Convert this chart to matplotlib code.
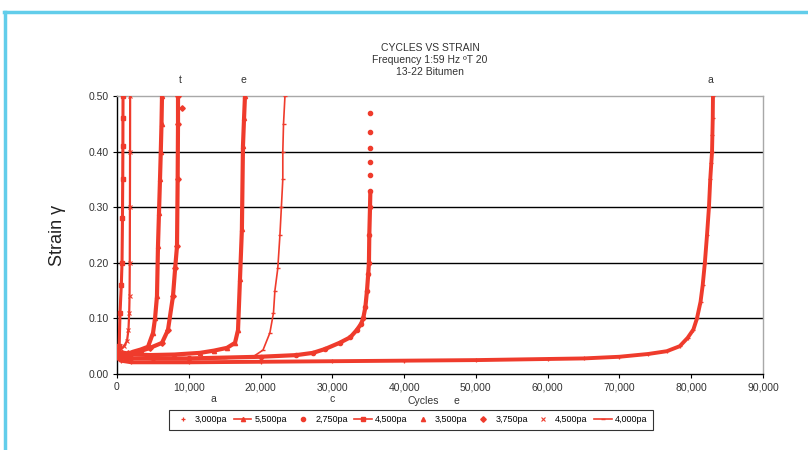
import matplotlib
matplotlib.use("Agg")
import matplotlib.pyplot as plt
from matplotlib.lines import Line2D

plt.rcParams['font.family'] = ['Liberation Sans', 'DejaVu Sans']

RED = '#ef3b2c'

# ---- data (cycles, strain) ----
c_3000 = [0, 500, 2000, 10000, 20000, 30000, 40000, 50000, 60000, 65000, 70000, 74000,
          76600, 78400, 79500, 80300, 80800, 81300, 81600, 81900, 82200, 82470, 82650,
          82800, 82900, 82950, 83000, 83030]
s_3000 = [0.030, 0.024, 0.021, 0.021, 0.022, 0.023, 0.024, 0.025, 0.027, 0.028, 0.031, 0.036,
          0.041, 0.050, 0.065, 0.080, 0.100, 0.130, 0.160, 0.200, 0.250, 0.300, 0.350,
          0.380, 0.400, 0.430, 0.460, 0.500]

c_5500 = [0, 500, 1500, 2230, 3300, 4320, 5020, 5300, 5570, 5710, 5850, 5990, 6100, 6200, 6270]
s_5500 = [0.036, 0.034, 0.036, 0.040, 0.044, 0.049, 0.074, 0.100, 0.140, 0.230, 0.290, 0.350, 0.400, 0.450, 0.500]

c_2750 = [0, 2000, 10000, 20000, 25000, 27300, 29000, 31000, 32500, 33400, 34000, 34300,
          34600, 34830, 35000, 35100, 35150, 35250, 35300, 35300, 35300, 35300, 35300, 35300]
s_2750 = [0.030, 0.028, 0.028, 0.031, 0.034, 0.038, 0.045, 0.056, 0.066, 0.079, 0.090, 0.100,
          0.120, 0.150, 0.180, 0.200, 0.250, 0.300, 0.330, 0.358, 0.381, 0.406, 0.435, 0.469]

c_4500a = [0, 150, 300, 420, 600, 700, 760, 800, 820, 830, 840]
s_4500a = [0.040, 0.040, 0.050, 0.110, 0.160, 0.200, 0.280, 0.350, 0.410, 0.460, 0.500]

c_3500 = [0, 1000, 4600, 8000, 11560, 13500, 15320, 16440, 16860, 17130, 17400, 17550, 17700, 17830]
s_3500 = [0.040, 0.036, 0.034, 0.035, 0.038, 0.042, 0.047, 0.056, 0.079, 0.170, 0.260, 0.410, 0.460, 0.500]

c_3750 = [0, 1500, 3000, 4600, 6270, 7100, 7800, 8100, 8360, 8450, 8500, 8500, 9000]
s_3750 = [0.040, 0.037, 0.040, 0.047, 0.056, 0.079, 0.140, 0.190, 0.230, 0.350, 0.450, 0.500, 0.478]

c_4500b = [0, 500, 1000, 1400, 1600, 1700, 1750, 1780, 1800, 1820, 1830]
s_4500b = [0.040, 0.045, 0.050, 0.060, 0.080, 0.110, 0.140, 0.200, 0.300, 0.400, 0.500]

c_4000 = [0, 5000, 10000, 15000, 18950, 20340, 21300, 21800, 22000, 22400, 22700, 22900, 23100, 23100, 23200, 23400]
s_4000 = [0.030, 0.026, 0.026, 0.028, 0.031, 0.043, 0.074, 0.110, 0.150, 0.190, 0.250, 0.300, 0.350, 0.400, 0.450, 0.500]

xticks = [0, 10000, 20000, 30000, 40000, 50000, 60000, 70000, 80000, 90000]
yticks = [0.0, 0.1, 0.2, 0.3, 0.4, 0.5]

fig = plt.figure(figsize=(8.08, 4.5), dpi=100)
ax = fig.add_axes([117/808, 76/450, 646/808, 278/450])

# bands (dense marker runs look like thick lines)
for cx, sy, lw in [(c_3000, s_3000, 2.8), (c_2750[:19], s_2750[:19], 3.0), (c_3500, s_3500, 3.0),
                   (c_3750[:12], s_3750[:12], 3.0), (c_5500, s_5500, 3.0), (c_4500b, s_4500b, 1.6),
                   (c_4500a, s_4500a, 2.2)]:
    ax.plot(cx, sy, color=RED, lw=lw, solid_capstyle='butt', zorder=3)

h1, = ax.plot(c_3000, s_3000, ls='none', marker='+', ms=3, mew=0.9, color=RED, label='3,000pa', zorder=4)
h2, = ax.plot(c_5500, s_5500, ls='-', lw=1.2, marker='^', ms=3, color=RED, label='5,500pa', zorder=4)
h3, = ax.plot(c_2750, s_2750, ls='none', marker='o', ms=3, color=RED, label='2,750pa', zorder=4)
h4, = ax.plot(c_4500a, s_4500a, ls='-', lw=1.2, marker='s', ms=3.5, color=RED, label='4,500pa', zorder=4)
h5, = ax.plot(c_3500, s_3500, ls='none', marker='^', ms=3, color=RED, label='3,500pa', zorder=4)
h6, = ax.plot(c_3750, s_3750, ls='none', marker='D', ms=2.8, color=RED, label='3,750pa', zorder=4)
h7, = ax.plot(c_4500b, s_4500b, ls='none', marker='x', ms=2.5, mew=0.8, color=RED, label='4,500pa', zorder=4)
h8, = ax.plot(c_4000, s_4000, ls='-', lw=1.2, marker='_', ms=3, color=RED, label='4,000pa', zorder=4)

ax.set_xlim(0, 90000)
ax.set_ylim(0, 0.5)
ax.set_xticks(xticks)
ax.set_xticklabels([f'{v:,}' for v in xticks], fontsize=7.5, color='#333333')
ax.set_yticks(yticks)
ax.set_yticklabels([f'{v:.2f}' for v in yticks], fontsize=7.5, color='#333333')
ax.tick_params(axis='both', direction='out', length=3, width=0.8, pad=3)
for y in yticks[1:5]:
    ax.axhline(y, color='black', lw=1.0, zorder=1)
ax.spines['left'].set_color('black')
ax.spines['bottom'].set_color('black')
ax.spines['top'].set_color('#a8a8a8')
ax.spines['right'].set_color('#a8a8a8')
for s in ax.spines.values():
    s.set_linewidth(1.0)

ax.set_ylabel('Strain γ', fontsize=13, color='#222222', labelpad=16)

# titles
fig.text(430/808, 1 - 48/450, 'CYCLES VS STRAIN', ha='center', va='center', fontsize=7.5, color='#333333')
fig.text(430/808, 1 - 60/450, 'Frequency 1:59 Hz ºT 20', ha='center', va='center', fontsize=7.5, color='#333333')
fig.text(430/808, 1 - 72/450, '13-22 Bitumen', ha='center', va='center', fontsize=7.5, color='#333333')

# stray letters
for x, y, t in [(180, 80, 't'), (243, 80, 'e'), (710, 80, 'a'), (213, 399, 'a'), (332, 399, 'c'),
                (423, 401, 'Cycles'), (456, 401, 'e')]:
    fig.text(x/808, 1 - y/450, t, ha='center', va='center', fontsize=7.5, color='#333333')

leg = fig.legend(handles=[h1, h2, h3, h4, h5, h6, h7, h8], loc='center',
                 bbox_to_anchor=(411/808, 1 - 420/450), ncol=8, fontsize=6.5,
                 frameon=True, fancybox=False, edgecolor='black', handlelength=1.9,
                 handletextpad=0.4, columnspacing=0.75, borderpad=0.6, borderaxespad=0)
leg.get_frame().set_linewidth(0.8)

# light-blue frame on the figure
fig.add_artist(Line2D([5/808, 5/808], [0, 1 - 12/450], color='#62cdea', lw=2.5, transform=fig.transFigure))
fig.add_artist(Line2D([4/808, 1], [1 - 12/450, 1 - 12/450], color='#62cdea', lw=2.5, transform=fig.transFigure))

fig.savefig('out.png', dpi=100)
